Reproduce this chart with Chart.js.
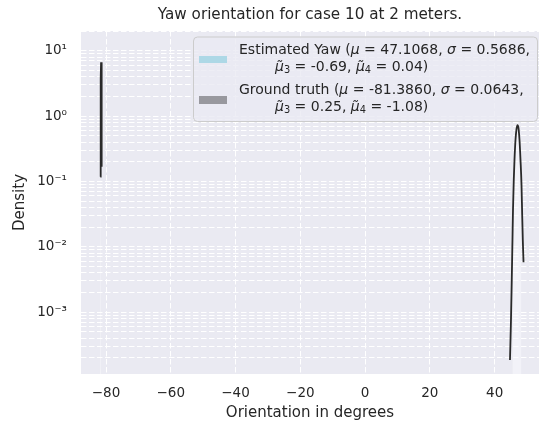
<!DOCTYPE html>
<html lang="en">
<head>
<meta charset="UTF-8">
<title>Yaw orientation for case 10 at 2 meters</title>
<script src="https://cdn.jsdelivr.net/npm/chart.js"></script>
<style>
  body { margin: 0; background: #ffffff; }
  #wrap { width: 539px; height: 427px; }
</style>
</head>
<body>
<div id="wrap"><canvas id="yawChart" width="539" height="427"></canvas></div>
<script>
// KDE curves, orientation (deg) vs density
const estKdeX = [44.74, 45.05, 45.29, 45.51, 45.67, 45.91, 46.13, 46.44, 46.75, 47.06, 47.37, 47.68, 47.99, 48.30, 48.51, 48.70, 48.92];
const estKdeY = [1.84e-4, 7.6e-4, 3.1e-3, 0.0127, 0.0365, 0.105, 0.212, 0.43, 0.634, 0.73, 0.657, 0.43, 0.212, 0.088, 0.0306, 0.0127, 0.0058];
const gtKdeX = [-81.76, -81.68, -81.6, -81.52, -81.44, -81.36, -81.3, -81.26];
const gtKdeY = [0.118, 0.9, 3.8, 6.7, 6.2, 2.4, 0.6, 0.168];

// histogram bins (edges + density per bin)
const estBinEdges = [45.5, 45.8, 46.1, 46.5, 46.9, 47.3, 47.7, 48.0, 48.3];
const estBinDensity = [0.02, 0.12, 0.45, 0.72, 0.8, 0.55, 0.2, 0.04];
const gtBinEdges = [-81.8, -81.55];
const gtBinDensity = [6.0];

// axes
const xTicks = [-80, -60, -40, -20, 0, 20, 40];
const xMin = -87.72, xMax = 53.7;
const yMin = 1.125e-4, yMax = 20.1;
const yDecades = [-4, -3, -2, -1, 0, 1];

const titleText = 'Yaw orientation for case 10 at 2 meters.';
const xLabel = 'Orientation in degrees';
const yLabel = 'Density';

// legend text runs: [text, style] with 0 = upright, 1 = italic, 2 = subscript
const estLegend = [
  [['Estimated Yaw (', 0], ['\u03bc', 1], [' = 47.1068, ', 0], ['\u03c3', 1], [' = 0.5686,', 0]],
  [['\u03bc\u0303', 1], ['3', 2], [' = -0.69, ', 0], ['\u03bc\u0303', 1], ['4', 2], [' = 0.04)', 0]]
];
const gtLegend = [
  [['Ground truth (', 0], ['\u03bc', 1], [' = -81.3860, ', 0], ['\u03c3', 1], [' = 0.0643,', 0]],
  [['\u03bc\u0303', 1], ['3', 2], [' = 0.25, ', 0], ['\u03bc\u0303', 1], ['4', 2], [' = -1.08)', 0]]
];

const FONT = "'DejaVu Sans', sans-serif";
const INK = '#262626';

function xy(xs, ys) {
  return xs.map((x, i) => ({ x: x, y: ys[i] }));
}

// closed step outline of a histogram, down to the axis floor
function histOutline(edges, dens) {
  const pts = [{ x: edges[0], y: yMin }];
  dens.forEach((d, i) => {
    pts.push({ x: edges[i], y: d });
    pts.push({ x: edges[i + 1], y: d });
  });
  pts.push({ x: edges[edges.length - 1], y: yMin });
  return pts;
}

const supMap = { '-': '\u207b', '0': '\u2070', '1': '\u00b9', '2': '\u00b2', '3': '\u00b3', '4': '\u2074' };
function supLabel(exp) {
  return '10' + String(exp).split('').map(c => supMap[c]).join('');
}

function drawRuns(ctx, x, y, runs, size) {
  runs.forEach(([t, st]) => {
    let dy = 0;
    if (st === 2) {
      ctx.font = (size * 0.7) + 'px ' + FONT;
      dy = size * 0.22;
    } else {
      ctx.font = (st === 1 ? 'italic ' : '') + size + 'px ' + FONT;
    }
    ctx.fillText(t, x, y + dy);
    x += ctx.measureText(t).width;
  });
}

const decor = {
  id: 'decor',
  beforeDraw(chart) {
    const { ctx, chartArea: a } = chart;
    ctx.save();
    ctx.fillStyle = '#eaeaf2';
    ctx.fillRect(a.left, a.top, a.right - a.left, a.bottom - a.top);
    ctx.restore();
  },
  afterDraw(chart) {
    const { ctx, chartArea: a } = chart;
    ctx.save();
    // title
    ctx.fillStyle = INK;
    ctx.font = '15.2px ' + FONT;
    ctx.textAlign = 'center';
    ctx.textBaseline = 'middle';
    ctx.fillText(titleText, (a.left + a.right) / 2, 15);

    // legend box
    const bx = a.left + 112, by = a.top + 5.5, bw = 344, bh = 84.5, r = 4;
    ctx.beginPath();
    ctx.roundRect(bx + 0.5, by + 0.5, bw, bh, r);
    ctx.fillStyle = 'rgba(234,234,242,0.8)';
    ctx.fill();
    ctx.strokeStyle = '#cccccc';
    ctx.lineWidth = 1;
    ctx.stroke();

    ctx.fillStyle = '#add8e6';
    ctx.fillRect(bx + 6, by + 19.5, 28, 7);
    ctx.fillStyle = '#98989e';
    ctx.fillRect(bx + 6, by + 59.5, 28, 8);

    ctx.textAlign = 'left';
    ctx.fillStyle = INK;
    drawRuns(ctx, bx + 46, by + 13.5, estLegend[0], 14);
    drawRuns(ctx, bx + 82, by + 30.5, estLegend[1], 14);
    drawRuns(ctx, bx + 46, by + 53.5, gtLegend[0], 14);
    drawRuns(ctx, bx + 82, by + 70.5, gtLegend[1], 14);
    ctx.restore();
  }
};

const gridStyle = { color: '#ffffff', lineWidth: 1, drawTicks: false };
const dashed = { display: false, dash: [5.5, 2.5] };

new Chart(document.getElementById('yawChart'), {
  type: 'line',
  data: {
    datasets: [
      {
        label: 'Estimated Yaw KDE',
        data: xy(estKdeX, estKdeY),
        borderColor: '#2a2a2a',
        borderWidth: 1.8,
        pointRadius: 0,
        cubicInterpolationMode: 'monotone',
        fill: false
      },
      {
        label: 'Ground truth KDE',
        data: xy(gtKdeX, gtKdeY),
        borderColor: '#2a2a2a',
        borderWidth: 1.8,
        pointRadius: 0,
        fill: false
      },
      {
        label: 'Estimated Yaw',
        data: histOutline(estBinEdges, estBinDensity),
        borderWidth: 0,
        borderColor: 'rgba(0,0,0,0)',
        backgroundColor: 'rgba(252,252,255,0.45)',
        pointRadius: 0,
        fill: 'start'
      },
      {
        label: 'Ground truth',
        data: histOutline(gtBinEdges, gtBinDensity),
        borderWidth: 0,
        borderColor: 'rgba(0,0,0,0)',
        backgroundColor: '#ffffff',
        pointRadius: 0,
        fill: 'start'
      }
    ]
  },
  options: {
    responsive: false,
    animation: false,
    devicePixelRatio: 1,
    layout: { padding: { top: 31, left: 0, right: 0, bottom: 0 } },
    plugins: {
      legend: { display: false },
      title: { display: false },
      tooltip: { enabled: false }
    },
    scales: {
      x: {
        type: 'linear',
        min: xMin,
        max: xMax,
        grid: gridStyle,
        border: dashed,
        afterBuildTicks: s => { s.ticks = xTicks.map(v => ({ value: v })); },
        afterFit: s => { s.height = 53; },
        ticks: {
          padding: 11,
          color: INK,
          font: { family: FONT, size: 13.5 },
          autoSkip: false,
          maxRotation: 0,
          callback: v => String(v).replace('-', '\u2212')
        },
        title: {
          display: true,
          text: xLabel,
          color: INK,
          font: { family: FONT, size: 15 },
          padding: { top: 0, bottom: 5 }
        }
      },
      y: {
        type: 'logarithmic',
        min: yMin,
        max: yMax,
        grid: gridStyle,
        border: dashed,
        afterBuildTicks: s => {
          const t = [];
          yDecades.forEach(e => {
            for (let m = 1; m <= 9; m++) {
              const v = m * Math.pow(10, e);
              if (v >= yMin && v <= yMax) t.push({ value: v, major: m === 1, exp: e });
            }
          });
          s.ticks = t;
        },
        afterFit: s => { s.width = 81; },
        ticks: {
          padding: 14,
          color: INK,
          font: { family: FONT, size: 13.5 },
          autoSkip: false,
          callback: function (v, i, ts) {
            const t = ts[i];
            return t.major ? supLabel(t.exp) : '';
          }
        },
        title: {
          display: true,
          text: yLabel,
          color: INK,
          font: { family: FONT, size: 15 },
          padding: { top: 11, bottom: 0 }
        }
      }
    }
  },
  plugins: [decor]
});
</script>
</body>
</html>
